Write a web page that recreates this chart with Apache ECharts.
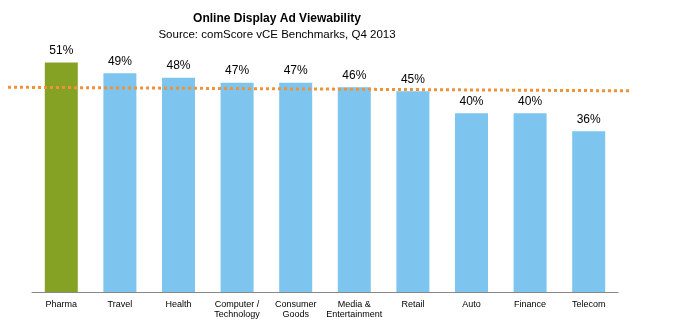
<!DOCTYPE html>
<html><head><meta charset="utf-8">
<script src="https://cdn.jsdelivr.net/npm/echarts@6/dist/echarts.min.js"></script>
<style>html,body{margin:0;padding:0;background:#fff}#c{width:675px;height:331px}</style>
</head><body><div id="c"></div>
<script>
const categories = ['Pharma','Travel','Health','Computer /\nTechnology','Consumer\nGoods','Media &\nEntertainment','Retail','Auto','Finance','Telecom'];
const values = [51, 48.6, 47.6, 46.5, 46.5, 45.5, 44.6, 39.7, 39.7, 35.7];
const labels = ['51%','49%','48%','47%','47%','46%','45%','40%','40%','36%'];
const avgLine = [[0, 45.5], [1, 44.7]];
const highlightIndex = 0;

const chart = echarts.init(document.getElementById('c'));
chart.setOption({
  animation: false,
  title: [
    {text: 'Online Display Ad Viewability', left: 272, textAlign: 'center', top: 8,
     textStyle: {fontFamily: 'Arial, Liberation Sans', fontWeight: 'bold', fontSize: 12, color: '#000'}},
    {text: 'Source: comScore vCE Benchmarks, Q4 2013', left: 272, textAlign: 'center', top: 24,
     textStyle: {fontFamily: 'Arial, Liberation Sans', fontWeight: 'normal', fontSize: 11.5, color: '#000'}}
  ],
  grid: [
    {left: 32, right: 57, top: 22, bottom: 39},
    {left: 8, right: 43, top: 22, bottom: 39}
  ],
  xAxis: [
    {type: 'category', data: categories, gridIndex: 0,
     axisLine: {lineStyle: {color: '#888', width: 1}}, axisTick: {show: false},
     axisLabel: {interval: 0, fontFamily: 'Arial, Liberation Sans', fontSize: 9, color: '#000', margin: 8, lineHeight: 10}},
    {type: 'value', gridIndex: 1, min: 0, max: 1, show: false}
  ],
  yAxis: [
    {type: 'value', gridIndex: 0, min: 0, max: 60, show: false, splitLine: {show: false}},
    {type: 'value', gridIndex: 1, min: 0, max: 60, show: false, splitLine: {show: false}}
  ],
  series: [
    {type: 'bar', xAxisIndex: 0, yAxisIndex: 0, barWidth: 33,
     data: values.map((v, i) => ({value: v, itemStyle: {color: i === highlightIndex ? '#86A224' : '#7DC4EE'}})),
     label: {show: true, position: 'top', distance: 6, fontFamily: 'Arial, Liberation Sans', fontSize: 12, color: '#000',
             formatter: p => labels[p.dataIndex]}},
    {type: 'line', xAxisIndex: 1, yAxisIndex: 1, data: avgLine, symbol: 'none', z: 5,
     lineStyle: {color: '#F0923A', width: 3, type: [3, 3]}}
  ]
});
</script></body></html>
